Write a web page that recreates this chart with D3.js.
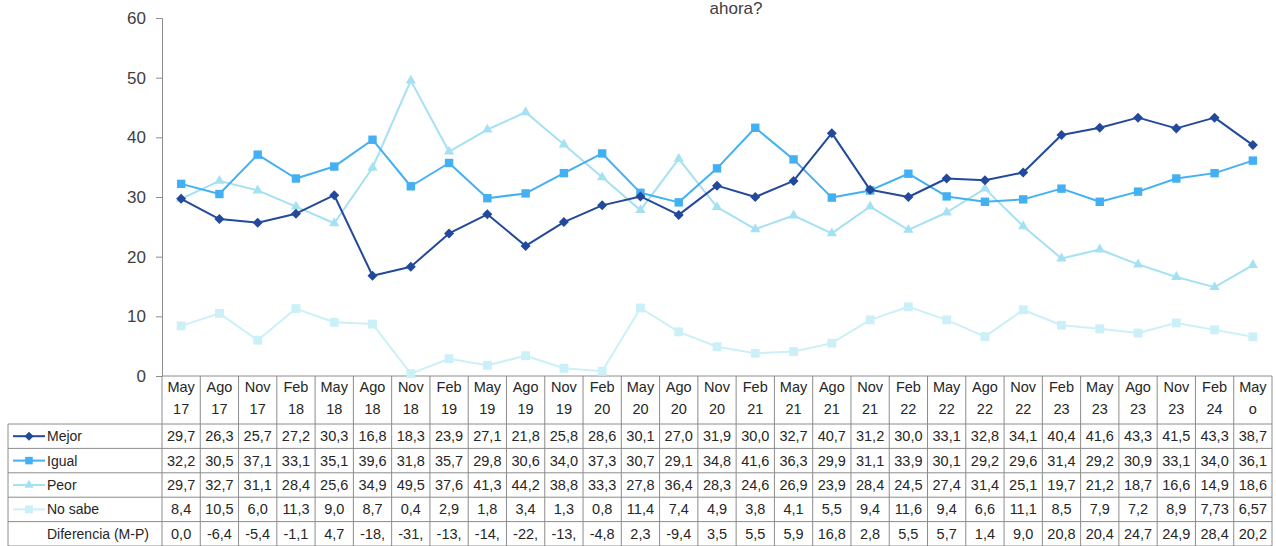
<!DOCTYPE html>
<html>
<head>
<meta charset="utf-8">
<script src="https://cdn.jsdelivr.net/npm/d3@7"></script>
<style>
  body { margin: 0; background: #fff; }
  svg text { font-family: "Liberation Sans", Arial, sans-serif; }
</style>
</head>
<body>
<div class="chartDiv"></div>
<script>
// data
var months   = ["May","Ago","Nov","Feb","May","Ago","Nov","Feb","May","Ago","Nov","Feb","May","Ago","Nov",
                "Feb","May","Ago","Nov","Feb","May","Ago","Nov","Feb","May","Ago","Nov","Feb","May"];
var years    = ["17","17","17","18","18","18","18","19","19","19","19","20","20","20","20",
                "21","21","21","21","22","22","22","22","23","23","23","23","24","o"];
var mejor    = [29.7,26.3,25.7,27.2,30.3,16.8,18.3,23.9,27.1,21.8,25.8,28.6,30.1,27.0,31.9,30.0,32.7,40.7,31.2,30.0,33.1,32.8,34.1,40.4,41.6,43.3,41.5,43.3,38.7];
var igual    = [32.2,30.5,37.1,33.1,35.1,39.6,31.8,35.7,29.8,30.6,34.0,37.3,30.7,29.1,34.8,41.6,36.3,29.9,31.1,33.9,30.1,29.2,29.6,31.4,29.2,30.9,33.1,34.0,36.1];
var peor     = [29.7,32.7,31.1,28.4,25.6,34.9,49.5,37.6,41.3,44.2,38.8,33.3,27.8,36.4,28.3,24.6,26.9,23.9,28.4,24.5,27.4,31.4,25.1,19.7,21.2,18.7,16.6,14.9,18.6];
var noSabe   = [8.4,10.5,6.0,11.3,9.0,8.7,0.4,2.9,1.8,3.4,1.3,0.8,11.4,7.4,4.9,3.8,4.1,5.5,9.4,11.6,9.4,6.6,11.1,8.5,7.9,7.2,8.9,7.73,6.57];
var diferencia = ["0,0","-6,4","-5,4","-1,1","4,7","-18,","-31,","-13,","-14,","-22,","-13,","-4,8","2,3","-9,4","3,5",
                  "5,5","5,9","16,8","2,8","5,5","5,7","1,4","9,0","20,8","20,4","24,7","24,9","28,4","20,2"];
var yTicks   = [0,10,20,30,40,50,60];

var width = 1276, height = 546;
var plotLeft = 162, plotRight = 1272, plotTop = 18, plotBottom = 376;
var tableLeft = 8, headH = 48, rowH = 24.4;
var gridColor = "#8c8c8c", textColor = "#262626", cellFont = 14.5, nameFont = 14;

var series = [
  {name: "Mejor",   values: mejor,  color: "#22499c", shape: d3.symbolDiamond2, size: 64},
  {name: "Igual",   values: igual,  color: "#43b0f3", shape: d3.symbolSquare2,  size: 90},
  {name: "Peor",    values: peor,   color: "#a4e1f2", shape: d3.symbolTriangle2, size: 75},
  {name: "No sabe", values: noSabe, color: "#ccf0f7", shape: d3.symbolSquare2,  size: 100}
];

var svg = d3.select(".chartDiv").append("svg")
    .attr("width", width).attr("height", height);

var x = d3.scaleBand().domain(d3.range(months.length)).range([plotLeft, plotRight]);
var y = d3.scaleLinear().domain([0, 60]).range([plotBottom, plotTop]);

// title (only the last line is visible in the crop)
svg.append("text").attr("x", 736).attr("y", 14).attr("text-anchor", "middle")
   .attr("font-size", 17).attr("fill", "#404040").text("ahora?");

// y axis
var yAxis = svg.append("g").attr("transform", "translate(" + plotLeft + ",0)")
   .call(d3.axisLeft(y).tickValues(yTicks).tickSize(6).tickPadding(10));
yAxis.select(".domain").attr("stroke", gridColor);
yAxis.selectAll(".tick line").attr("stroke", gridColor);
yAxis.selectAll(".tick text").attr("font-size", 17).attr("fill", "#404040")
     .attr("font-family", "Liberation Sans, Arial, sans-serif");

// table grid
var nRows = series.length + 1;
var tableBottom = plotBottom + headH + nRows * rowH;
var grid = svg.append("g").attr("stroke", gridColor).attr("stroke-width", 1).attr("fill", "none");
grid.append("line").attr("x1", plotLeft).attr("x2", plotRight)
    .attr("y1", plotBottom).attr("y2", plotBottom);
grid.selectAll(".vline").data(d3.range(months.length + 1)).enter().append("line")
    .attr("x1", function(i){ return i === months.length ? plotRight : x(i); })
    .attr("x2", function(i){ return i === months.length ? plotRight : x(i); })
    .attr("y1", plotBottom).attr("y2", tableBottom + 4);
grid.append("line").attr("x1", tableLeft).attr("x2", tableLeft)
    .attr("y1", plotBottom + headH).attr("y2", tableBottom + 4);
grid.selectAll(".hline").data(d3.range(nRows + 1)).enter().append("line")
    .attr("x1", tableLeft).attr("x2", plotRight)
    .attr("y1", function(r){ return plotBottom + headH + r * rowH; })
    .attr("y2", function(r){ return plotBottom + headH + r * rowH; });

// header cells
var head = svg.append("g").attr("font-size", cellFont).attr("fill", textColor).attr("text-anchor", "middle");
head.selectAll(".m").data(months).enter().append("text")
    .attr("x", function(d, i){ return x(i) + x.bandwidth() / 2; })
    .attr("y", plotBottom + 16).text(function(d){ return d; });
head.selectAll(".yy").data(years).enter().append("text")
    .attr("x", function(d, i){ return x(i) + x.bandwidth() / 2; })
    .attr("y", plotBottom + 38).text(function(d){ return d; });

var fmt = function(v){
  var s = (Math.round(v * 10) === v * 10) ? v.toFixed(1) : String(v);
  return s.replace(".", ",");
};

// body rows
var rows = series.map(function(s){ return {name: s.name, cells: s.values.map(fmt), s: s}; });
rows.push({name: "Diferencia (M-P)", cells: diferencia, s: null});

rows.forEach(function(row, r){
  var cy = plotBottom + headH + r * rowH + rowH / 2;
  var g = svg.append("g");
  if(row.s){
    g.append("line").attr("x1", 13).attr("x2", 45).attr("y1", cy).attr("y2", cy)
     .attr("stroke", row.s.color).attr("stroke-width", 2);
    g.append("path").attr("d", d3.symbol().type(row.s.shape).size(row.s.size * 0.8)())
     .attr("transform", "translate(29," + cy + ")").attr("fill", row.s.color);
  }
  g.append("text").attr("x", 47).attr("y", cy + 5)
   .attr("font-size", nameFont).attr("fill", textColor).text(row.name);
  g.selectAll(".c").data(row.cells).enter().append("text")
   .attr("x", function(d, i){ return x(i) + x.bandwidth() / 2; })
   .attr("y", cy + 5).attr("text-anchor", "middle")
   .attr("font-size", cellFont).attr("fill", textColor).text(function(d){ return d; });
});

// lines and markers, faintest first
var line = d3.line()
    .x(function(d, i){ return x(i) + x.bandwidth() / 2; })
    .y(function(d){ return y(d); });
series.slice().reverse().forEach(function(s){
  svg.append("path").datum(s.values).attr("d", line)
     .attr("fill", "none").attr("stroke", s.color).attr("stroke-width", 2)
     .attr("stroke-linejoin", "round");
  svg.selectAll(null).data(s.values).enter().append("path")
     .attr("d", d3.symbol().type(s.shape).size(s.size)())
     .attr("transform", function(d, i){
       return "translate(" + (x(i) + x.bandwidth() / 2) + "," + y(d) + ")";
     })
     .attr("fill", s.color);
});
</script>
</body>
</html>
